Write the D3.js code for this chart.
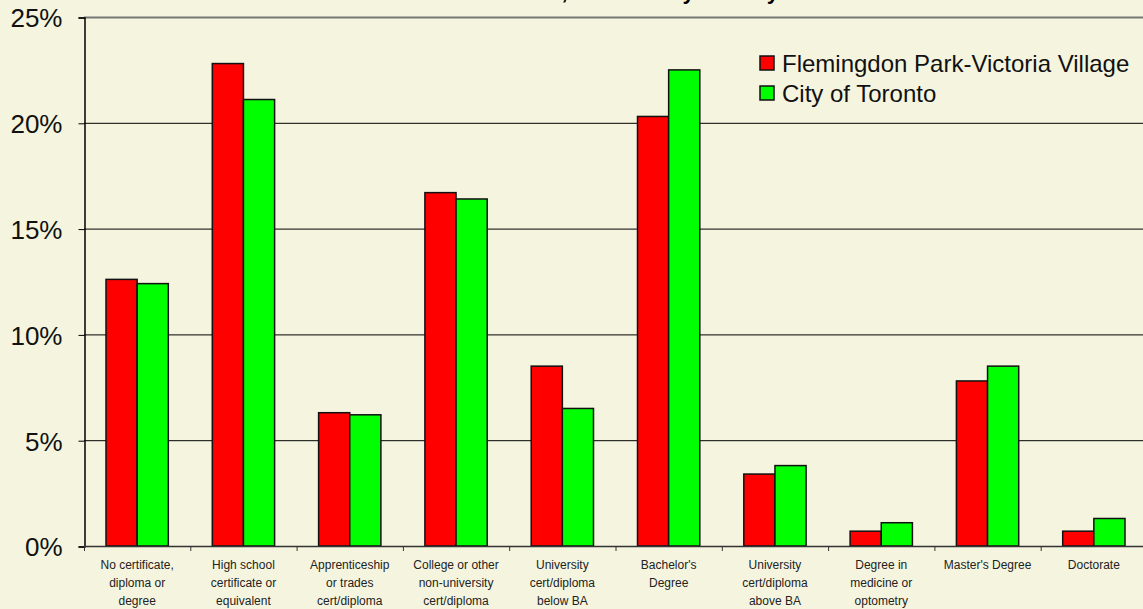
<!DOCTYPE html>
<html>
<head>
    <meta charset="utf-8" />
    <title>Education - Flemingdon Park-Victoria Village vs City of Toronto</title>
    <style>
        body {
            margin: 0;
            background: #f5f5df;
        }
        svg {
            display: block;
            font-family: Arial, "Liberation Sans", sans-serif;
        }
        .xlab {
            font-size: 12px;
            fill: #222;
            text-anchor: middle;
        }
        .legend {
            font-size: 24px;
            fill: #111;
        }
    </style>
</head>
<body>
    <svg id="chart" width="1143" height="609"></svg>
    <script src="https://d3js.org/d3.v7.min.js"></script>
    <script>
        // categories, with their line breaks as they appear under the axis
        var categories = [
            ["No certificate,", "diploma or", "degree"],
            ["High school", "certificate or", "equivalent"],
            ["Apprenticeship", "or trades", "cert/diploma"],
            ["College or other", "non-university", "cert/diploma"],
            ["University", "cert/diploma", "below  BA"],
            ["Bachelor's", "Degree"],
            ["University", "cert/diploma", "above BA"],
            ["Degree in", "medicine or", "optometry"],
            ["Master's Degree"],
            ["Doctorate"]
        ];
        var seriesNames = ["Flemingdon Park-Victoria Village", "City of Toronto"];
        var seriesColors = ["#ff0000", "#00ff00"];

        // values in percent
        var flemingdon = [12.6, 22.8, 6.3, 16.7, 8.5, 20.3, 3.4, 0.7, 7.8, 0.7];
        var toronto    = [12.4, 21.1, 6.2, 16.4, 6.5, 22.5, 3.8, 1.1, 8.5, 1.3];

        var yTicks = [0, 5, 10, 15, 20, 25];

        var svg = d3.select("#chart");
        var plotLeft = 84, plotRight = 1147, plotTop = 17, plotBottom = 546;

        var x0 = d3.scaleBand()
            .domain(d3.range(categories.length))
            .range([plotLeft, plotRight])
            .paddingInner(0.414)
            .paddingOuter(0.207);
        var x1 = d3.scaleBand()
            .domain([0, 1])
            .range([0, x0.bandwidth()]);
        var y = d3.scaleLinear().domain([0, 25]).range([plotBottom, plotTop]);

        // title, mostly cut off above the picture
        svg.append("text")
            .attr("x", 605)
            .attr("y", -1)
            .attr("text-anchor", "middle")
            .style("font-size", "22px")
            .style("font-weight", "bold")
            .text("Educational Attainment, Community vs. City of Toronto");

        // gridlines
        svg.append("g").selectAll("line")
            .data(yTicks.filter(function(d) { return d > 0; }))
            .join("line")
            .attr("x1", plotLeft).attr("x2", 1143)
            .attr("y1", function(d) { return y(d) + 0.5; })
            .attr("y2", function(d) { return y(d) + 0.5; })
            .attr("stroke", function(d) { return d === 25 ? "#777" : "#000"; })
            .attr("stroke-width", function(d) { return d === 25 ? 2 : 1; });

        // y axis
        var yAxis = svg.append("g")
            .attr("transform", "translate(" + (plotLeft + 0.5) + ",0.5)")
            .call(d3.axisLeft(y).tickValues(yTicks).tickSize(6).tickPadding(16)
                .tickFormat(function(d) { return d + "%"; }));
        yAxis.select(".domain").attr("stroke", "#000").attr("stroke-width", 1.5);
        yAxis.selectAll(".tick line").attr("stroke", "#000");
        yAxis.selectAll(".tick text")
            .attr("dy", "0.36em")
            .attr("fill", "#111")
            .style("font-size", "26px")
            .style("font-family", "Arial, 'Liberation Sans', sans-serif");

        // bars
        var groups = svg.append("g").selectAll("g")
            .data(categories.map(function(c, i) { return [flemingdon[i], toronto[i]]; }))
            .join("g")
            .attr("transform", function(d, i) { return "translate(" + x0(i) + ",0)"; });
        groups.selectAll("rect")
            .data(function(d) { return d; })
            .join("rect")
            .attr("x", function(d, j) { return x1(j); })
            .attr("y", function(d) { return y(d); })
            .attr("width", x1.bandwidth())
            .attr("height", function(d) { return y(0) - y(d); })
            .attr("fill", function(d, j) { return seriesColors[j]; })
            .attr("stroke", "#111")
            .attr("stroke-width", 1.5);

        // x axis line and category ticks
        var step = x0.step();
        svg.append("line")
            .attr("x1", plotLeft).attr("x2", 1143)
            .attr("y1", plotBottom + 0.5).attr("y2", plotBottom + 0.5)
            .attr("stroke", "#333").attr("stroke-width", 1.5);
        svg.append("g").selectAll("line")
            .data(d3.range(categories.length + 1))
            .join("line")
            .attr("x1", function(i) { return plotLeft + i * step + 0.5; })
            .attr("x2", function(i) { return plotLeft + i * step + 0.5; })
            .attr("y1", plotBottom).attr("y2", plotBottom + 5)
            .attr("stroke", "#333");

        // category labels
        var labels = svg.append("g").selectAll("text")
            .data(categories)
            .join("text")
            .attr("class", "xlab")
            .attr("x", function(d, i) { return x0(i) + x0.bandwidth() / 2; })
            .attr("y", 569);
        labels.selectAll("tspan")
            .data(function(d) { return d; })
            .join("tspan")
            .attr("x", function() { return d3.select(this.parentNode).attr("x"); })
            .attr("dy", function(d, i) { return i === 0 ? 0 : 18; })
            .text(function(d) { return d; });

        // legend
        var legend = svg.append("g").selectAll("g")
            .data(seriesNames)
            .join("g")
            .attr("transform", function(d, i) { return "translate(760," + (56 + i * 30) + ")"; });
        legend.append("rect")
            .attr("width", 14).attr("height", 14)
            .attr("fill", function(d, i) { return seriesColors[i]; })
            .attr("stroke", "#111").attr("stroke-width", 1.5);
        legend.append("text")
            .attr("class", "legend")
            .attr("x", 22).attr("y", 16)
            .text(function(d) { return d; });
    </script>
</body>
</html>
